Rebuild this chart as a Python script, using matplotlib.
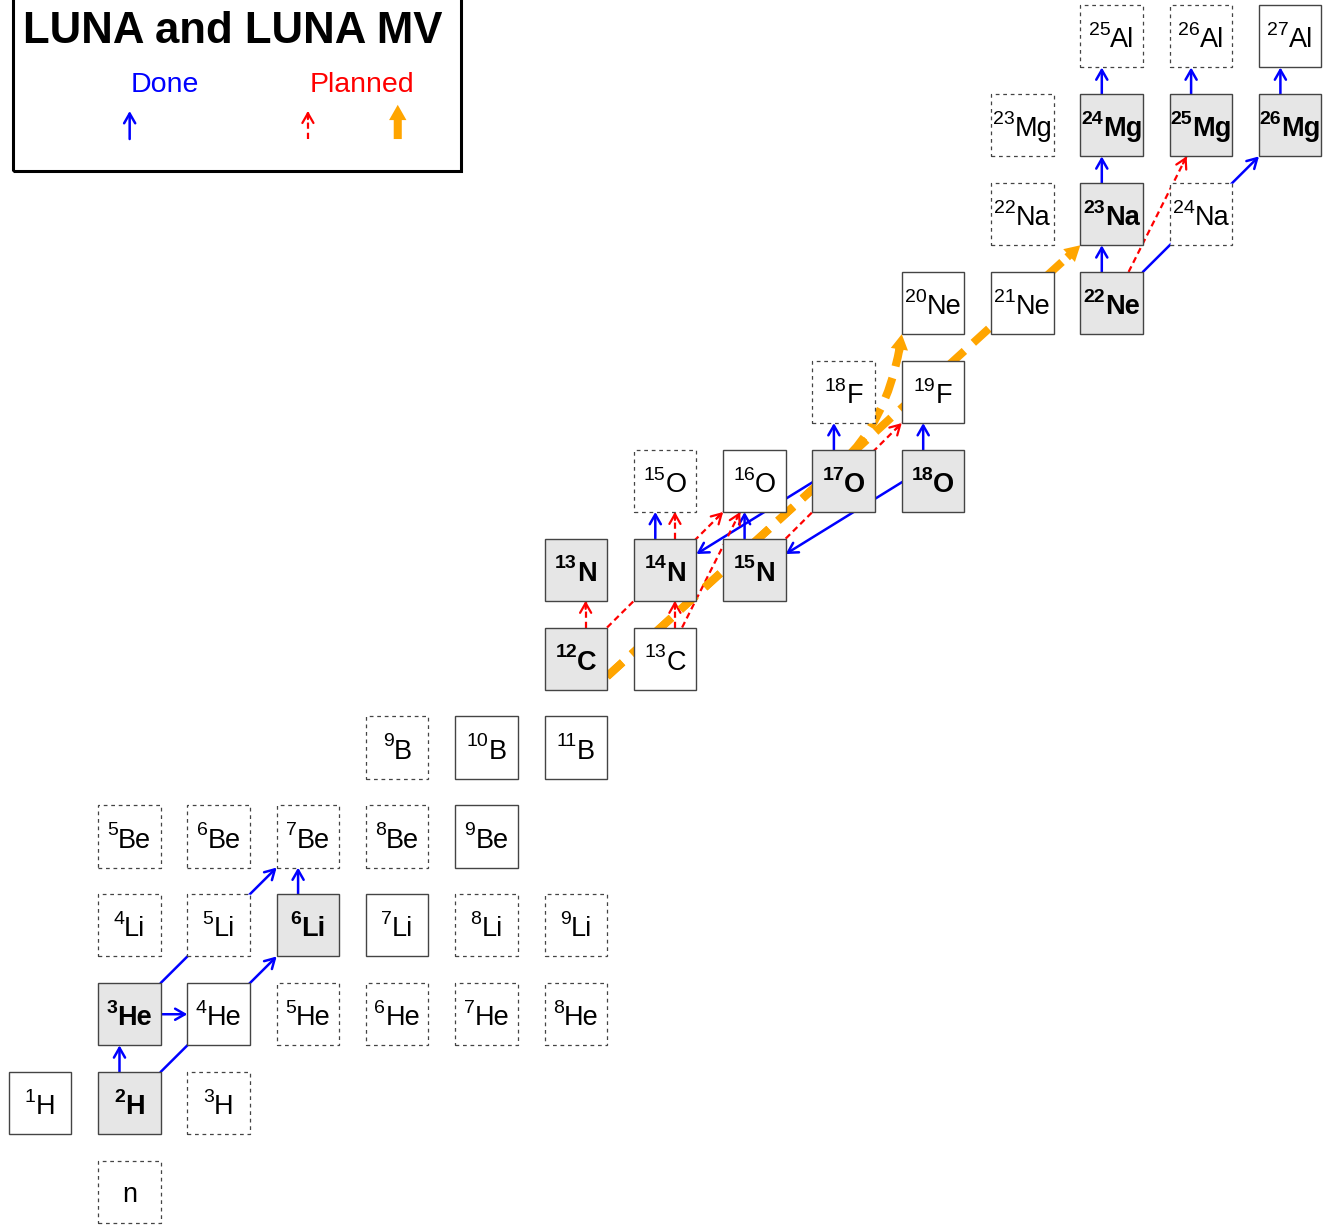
import re
import numpy as np
import matplotlib
matplotlib.use('Agg')
import matplotlib.pyplot as plt
from matplotlib.patches import Rectangle, PathPatch
from matplotlib.path import Path

plt.rcParams['font.family'] = 'Liberation Sans'

# proton number of each element
Z_of = {'n': 0, 'H': 1, 'He': 2, 'Li': 3, 'Be': 4, 'B': 5, 'C': 6, 'N': 7,
        'O': 8, 'F': 9, 'Ne': 10, 'Na': 11, 'Mg': 12, 'Al': 13}

nuclides = ['n', '1H', '2H', '3H',
            '3He', '4He', '5He', '6He', '7He', '8He',
            '4Li', '5Li', '6Li', '7Li', '8Li', '9Li',
            '5Be', '6Be', '7Be', '8Be', '9Be',
            '9B', '10B', '11B',
            '12C', '13C',
            '13N', '14N', '15N',
            '15O', '16O', '17O', '18O',
            '18F', '19F',
            '20Ne', '21Ne', '22Ne',
            '22Na', '23Na', '24Na',
            '23Mg', '24Mg', '25Mg', '26Mg',
            '25Al', '26Al', '27Al']

# solid frame
stable = ['1H', '2H', '3He', '4He', '6Li', '7Li', '9Be', '10B', '11B',
          '12C', '13C', '13N', '14N', '15N', '16O', '17O', '18O', '19F',
          '20Ne', '21Ne', '22Ne', '23Na', '24Mg', '25Mg', '26Mg', '27Al']
# grey + bold (LUNA targets)
targets = ['2H', '3He', '6Li', '12C', '13N', '14N', '15N', '17O', '18O',
           '22Ne', '23Na', '24Mg', '25Mg', '26Mg']

# reactions (target, product)
done_pg = [('2H', '3He'), ('6Li', '7Be'), ('14N', '15O'), ('15N', '16O'),
           ('17O', '18F'), ('18O', '19F'), ('22Ne', '23Na'), ('23Na', '24Mg'),
           ('24Mg', '25Al'), ('25Mg', '26Al'), ('26Mg', '27Al')]
done_side = [('3He', '4He')]
done_ag = [('2H', '6Li'), ('3He', '7Be'), ('22Ne', '26Mg')]
done_pa = [('17O', '14N'), ('18O', '15N')]
plan_pg = [('12C', '13N'), ('13C', '14N'), ('14N', '15O')]
plan_ag = [('12C', '16O'), ('15N', '19F')]
plan_an = [('13C', '16O'), ('22Ne', '25Mg')]
mv_straight = [('12C', '23Na')]
mv_curved = [('12C', '20Ne')]

BLUE = '#0000ff'
RED = '#ff0000'
ORANGE = '#ffa500'
H = 0.35          # half box size


def parse(name):
    if name == 'n':
        return 'n', 1, 0
    m = re.match(r'(\d+)([A-Za-z]+)', name)
    A = int(m.group(1))
    el = m.group(2)
    return el, A, Z_of[el]


pos = {}
for nm in nuclides:
    el, A, Z = parse(nm)
    pos[nm] = np.array([A - Z, Z], dtype=float)

fig = plt.figure(figsize=(13.33, 12.26), dpi=100)
ax = fig.add_axes([0, 0, 1, 1])
ax.set_xlim(-0.448, 14.479)
ax.set_ylim(-0.382, 13.409)
ax.axis('off')
rend = fig.canvas.get_renderer()
px_per_x = ax.transData.transform((1, 0))[0] - ax.transData.transform((0, 0))[0]


def text_w(s, size, weight):
    t = ax.text(0, 0, s, fontsize=size, fontweight=weight)
    w = t.get_window_extent(rend).width
    t.remove()
    return w / px_per_x


# ---------------- boxes and labels ----------------
SYM_FS = 19.5
SUP_FS = 14
for nm in nuclides:
    el, A, Z = parse(nm)
    x, y = pos[nm]
    face = '#e6e6e6' if nm in targets else 'white'
    if nm in stable:
        r = Rectangle((x - H, y - H), 2 * H, 2 * H, facecolor=face,
                      edgecolor='#444444', lw=1.0, zorder=2)
    else:
        r = Rectangle((x - H, y - H), 2 * H, 2 * H, facecolor=face,
                      edgecolor='#444444', lw=0.9, ls=(0, (3, 3)), zorder=2)
    ax.add_patch(r)
    base = y - 0.125
    if nm == 'n':
        ax.text(x, base + 0.01, 'n', ha='center', va='baseline', fontsize=SYM_FS, zorder=3)
        continue
    wt = 'bold' if nm in targets else 'normal'
    w_sup = text_w(str(A), SUP_FS, wt)
    w_sym = text_w(el, SYM_FS, wt)
    x0 = x - (w_sup + w_sym) / 2
    ax.text(x0, base + 0.14, str(A), ha='left', va='baseline',
            fontsize=SUP_FS, fontweight=wt, zorder=3)
    ax.text(x0 + w_sup, base, el, ha='left', va='baseline',
            fontsize=SYM_FS, fontweight=wt, zorder=3)


# ---------------- arrow helpers ----------------
HEAD = '->,head_length=0.7,head_width=0.4'


def solid_arrow(p0, p1, color=BLUE, z=1):
    ax.annotate('', xy=p1, xytext=p0, zorder=z,
                arrowprops=dict(arrowstyle=HEAD, mutation_scale=10, color=color,
                                lw=1.8, shrinkA=0, shrinkB=0))


def dashed_arrow(p0, p1, color=RED, z=1):
    p0 = np.asarray(p0); p1 = np.asarray(p1)
    ax.plot([p0[0], p1[0]], [p0[1], p1[1]], color=color, lw=1.6,
            dashes=(2.8, 1.8), zorder=z)
    u = (p1 - p0) / np.hypot(*(p1 - p0))
    ax.annotate('', xy=p1, xytext=p1 - 0.09 * u, zorder=z,
                arrowprops=dict(arrowstyle=HEAD, mutation_scale=10, color=color,
                                lw=1.6, shrinkA=0, shrinkB=0))


FAT = 'simple,head_length=1.1,head_width=1.25,tail_width=0.58'


def fat_head(tip, u, z=1):
    ax.annotate('', xy=tip, xytext=tip - 0.2 * u, zorder=z,
                arrowprops=dict(arrowstyle=FAT, mutation_scale=10, color=ORANGE,
                                lw=0, shrinkA=0, shrinkB=0))


HL = 0.16  # orange head length in data units

# blue (p,g): vertical, left of centre
for a, b in done_pg:
    solid_arrow(pos[a] + [-0.11, H], pos[b] + [-0.11, -H])
for a, b in done_side:
    solid_arrow(pos[a] + [H, 0], pos[b] + [-H, 0])
for a, b in done_ag:
    solid_arrow(pos[a] + [H, H], pos[b] + [-H, -H])
for a, b in done_pa:
    solid_arrow(pos[a] + [-0.345, -0.013], pos[b] + [H, 0.177])

# red planned
for a, b in plan_pg:
    dashed_arrow(pos[a] + [0.11, H], pos[b] + [0.11, -H])
for a, b in plan_ag:
    dashed_arrow(pos[a] + [H, H], pos[b] + [-H, -H])
for a, b in plan_an:
    dashed_arrow(pos[a] + [0.19, H], pos[b] + [-0.16, -H])

# orange LUNA MV
for a, b in mv_straight:
    p0 = pos[a] + [H, -0.2]
    p1 = pos[b] + [-H, -H]
    u = (p1 - p0) / np.hypot(*(p1 - p0))
    ax.plot([p0[0], (p1 - HL * u)[0]], [p0[1], (p1 - HL * u)[1]],
            color=ORANGE, lw=5.8, dashes=(2.6, 1.5), zorder=1)
    fat_head(p1, u)

for a, b in mv_curved:
    s = pos[a] + [H, -0.2]
    e = pos[b] + [-H, -H]
    u0 = (pos[mv_straight[0][1]] + [-H, -H]) - s
    u0 = u0 / np.hypot(*u0)
    q0 = s + 3.55 * u0         # leaves the straight track (inside 17O)
    q1 = s + 4.3 * u0          # control point
    t = 1 - HL / (2 * np.hypot(*(e - q1)))
    # split quadratic bezier at t so the shaft stops at the head
    c1 = (1 - t) * q0 + t * q1
    bt = (1 - t) ** 2 * q0 + 2 * t * (1 - t) * q1 + t ** 2 * e
    verts = [s, q0, c1, bt]
    codes = [Path.MOVETO, Path.LINETO, Path.CURVE3, Path.CURVE3]
    ax.add_patch(PathPatch(Path(verts, codes), fill=False, edgecolor=ORANGE,
                           lw=5.8, ls=(0, (2.6, 1.5)), zorder=1))
    ue = (e - bt) / np.hypot(*(e - bt))
    fat_head(e, ue)

# ---------------- legend ----------------
ax.add_patch(Rectangle((-0.302, 11.485), 5.016, 3.0, fill=False,
                       edgecolor='black', lw=2.2, zorder=4))
ax.text(2.161, 12.92, 'LUNA and LUNA MV', ha='center', va='baseline',
        fontsize=31.5, fontweight='bold', zorder=5)
ax.text(1.394, 12.377, 'Done', ha='center', va='baseline', fontsize=20.5,
        color=BLUE, zorder=5)
ax.text(3.60, 12.377, 'Planned', ha='center', va='baseline', fontsize=20.5,
        color=RED, zorder=5)
solid_arrow((1.004, 11.845), (1.004, 12.16), z=5)
dashed_arrow((3.0, 11.845), (3.0, 12.16), z=5)
ax.annotate('', xy=(4.006, 12.23), xytext=(4.006, 11.845), zorder=5,
            arrowprops=dict(arrowstyle=FAT, mutation_scale=10, color=ORANGE,
                            lw=0, shrinkA=0, shrinkB=0))

fig.savefig('out.png', dpi=100)
